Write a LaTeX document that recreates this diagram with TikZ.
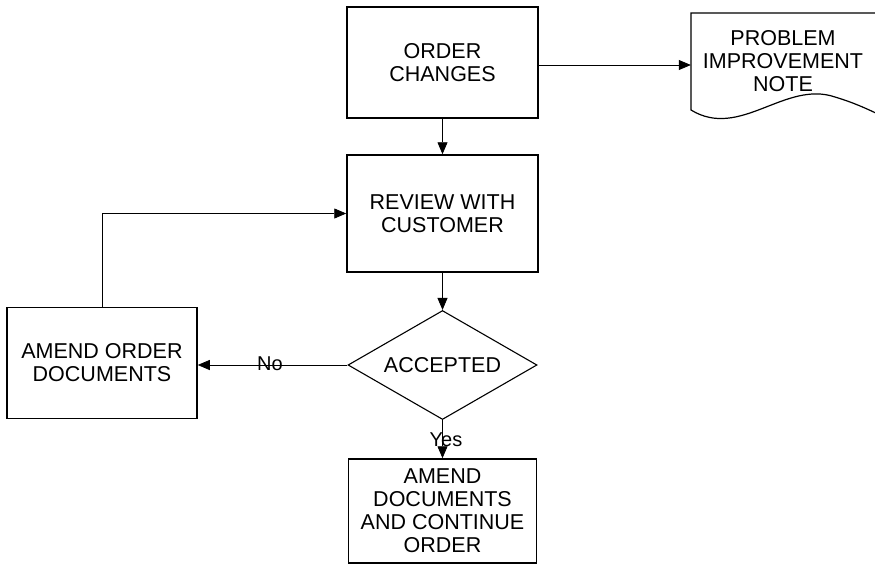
\documentclass[tikz,border=0pt]{standalone}
\usepackage{fontspec}
\setmainfont{Liberation Sans}
\usetikzlibrary{arrows.meta,shapes.geometric}
\begin{document}
\begin{tikzpicture}[x=1pt,y=-1pt,
  every node/.style={font=\fontsize{21.5}{23}\selectfont, align=center, inner sep=0pt},
  stepbox/.style={draw, line width=1.5pt, rectangle},
  decision/.style={draw, line width=1.1pt, diamond, minimum width=189pt, minimum height=109pt, aspect=1.73},
  flow/.style={line width=0.8pt, -{Triangle[length=12pt,width=10pt]}},
  tag/.style={font=\fontsize{20}{22}\selectfont}]
  \useasboundingbox (0,0) rectangle (875,573);
  \clip (0,0) rectangle (875,573);

  % process boxes
  \node[stepbox, minimum width=191pt, minimum height=111pt] (order) at (442.5,62.5) {ORDER\\CHANGES};
  \node[stepbox, minimum width=191pt, minimum height=117pt] (review) at (442.5,213.5) {REVIEW WITH\\CUSTOMER};
  \node[decision] (accepted) at (442.5,365) {ACCEPTED};
  \node[stepbox, minimum width=190pt, minimum height=111pt] (amendorder) at (102,363) {AMEND ORDER\\DOCUMENTS};
  \node[stepbox, minimum width=188pt, minimum height=104pt] (amendcont) at (442.5,511) {AMEND\\DOCUMENTS\\AND CONTINUE\\ORDER};

  % document symbol with wavy lower edge
  \node[minimum width=184pt, minimum height=97pt] (note) at (783,61.5) {PROBLEM\\IMPROVEMENT\\NOTE};
  \draw[line width=1.2pt] (890,13) -- (691,13) -- (691,110)
    .. controls (740,140) and (785,80) .. (835,97)
    .. controls (855,103) and (870,110) .. (890,120);

  % connectors
  \draw[flow] (order.east |- 0,65) -- (note.west |- 0,65);
  \draw[flow] (order) -- (review);
  \draw[flow] (review) -- (accepted);
  \draw[flow] (accepted.west) -- (accepted.west -| amendorder.east);
  \draw[flow] (accepted.south) -- (amendcont.north);
  \draw[flow] (amendorder.north) |- (review.west);

  % branch labels
  \node[tag] (nolabel) at (270,364) {No};
  \node[tag] (yeslabel) at (446,440) {Yes};
\end{tikzpicture}
\end{document}
